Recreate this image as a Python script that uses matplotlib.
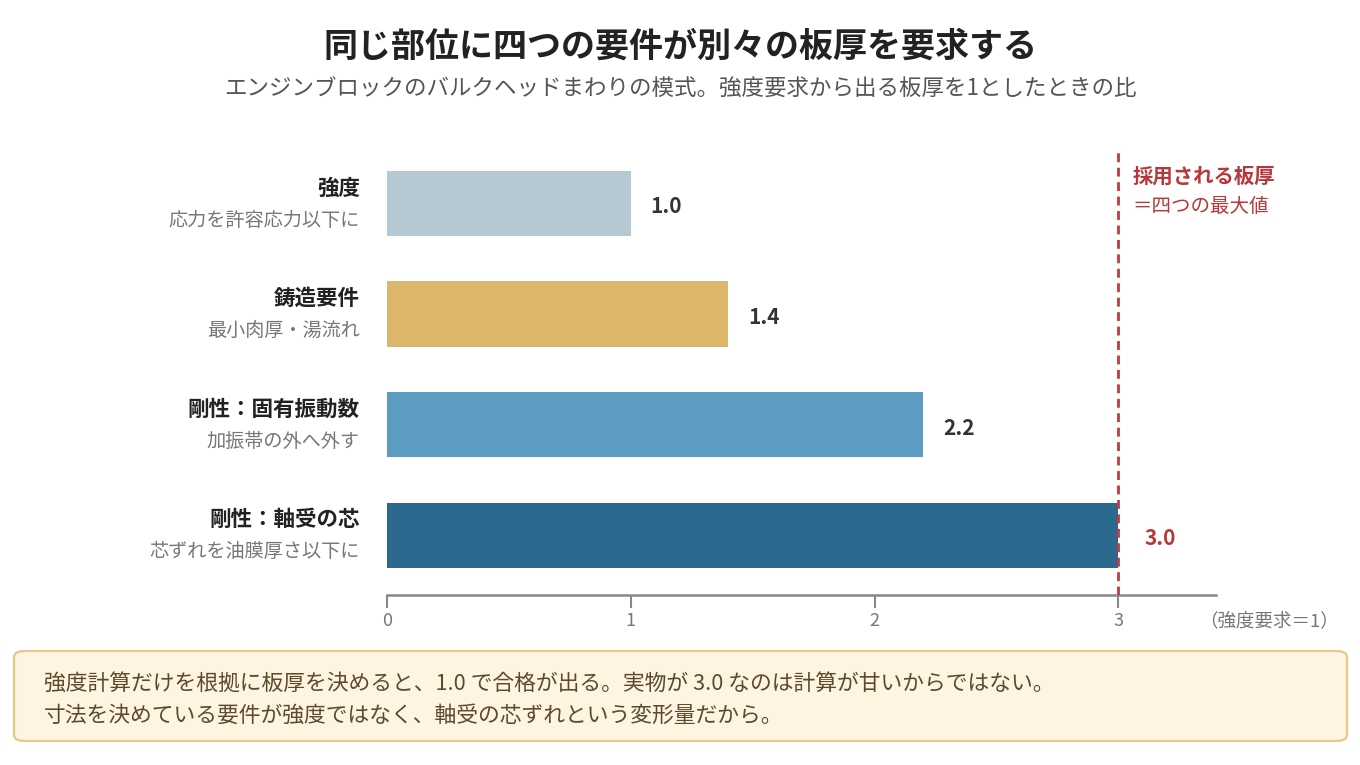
import matplotlib
matplotlib.use("Agg")
import matplotlib.pyplot as plt
from matplotlib.patches import FancyBboxPatch

plt.rcParams['font.family'] = ['Noto Sans CJK JP', 'DejaVu Sans']

# Data
names = ['強度', '鋳造要件', '剛性：固有振動数', '剛性：軸受の芯']
notes = ['応力を許容応力以下に', '最小肉厚・湯流れ', '加振帯の外へ外す', '芯ずれを油膜厚さ以下に']
values = [1.0, 1.4, 2.2, 3.0]
colors = ['#b6c8d3', '#dbb66b', '#5b9cc0', '#2b6a8e']
xticks = [0, 1, 2, 3]

red = '#b8373a'
dark = '#333333'
gray = '#777777'

fig = plt.figure(figsize=(13.6, 7.65), dpi=100)
ax = fig.add_axes([387 / 1360, 1 - 595 / 765, 829 / 1360, 443 / 765])

ypos = list(range(len(values)))
ax.barh(ypos, values, height=0.59, color=colors, zorder=2)
ax.set_xlim(0, 3.4)
ax.set_ylim(3.54, -0.465)

# Value labels
vmax = max(values)
for y, v in zip(ypos, values):
    c = red if v == vmax else dark
    dx = 0.105 if v == vmax else 0.08
    ax.annotate(f'{v:.1f}', xy=(v + dx, y), xytext=(0, -2.5),
                textcoords='offset points', va='center', ha='left',
                fontsize=15, fontweight='bold', color=c)

# Category labels (two lines)
for y, n, s in zip(ypos, names, notes):
    ax.annotate(n, xy=(0, y), xycoords=('axes fraction', 'data'),
                xytext=(-19.5, 11), textcoords='offset points', ha='right',
                va='center', fontsize=15.5, fontweight='bold', color='#222222')
    ax.annotate(s, xy=(0, y), xycoords=('axes fraction', 'data'),
                xytext=(-19.5, -12), textcoords='offset points', ha='right',
                va='center', fontsize=13.8, color=gray)

# Max line
ax.axvline(vmax, color='#bf3a3c', lw=2, ls=(0, (3.2, 2)), zorder=3)
ax.text(vmax + 0.057, -0.25, '採用される板厚', color=red, fontsize=14.7,
        fontweight='bold', va='center', ha='left')
ax.text(vmax + 0.057, 0.03, '＝四つの最大値', color=red, fontsize=14,
        va='center', ha='left')

# Axes styling
for side in ['top', 'right', 'left']:
    ax.spines[side].set_visible(False)
ax.spines['bottom'].set_color('#888888')
ax.spines['bottom'].set_linewidth(1.8)
ax.set_yticks([])
ax.set_xticks(xticks)
ax.set_xticklabels([str(t) for t in xticks])
ax.tick_params(axis='x', length=9, width=1.5, color='#888888', labelcolor=gray,
               labelsize=13, pad=3)
ax.annotate('（強度要求＝1）', xy=(1, 0), xycoords='axes fraction',
            xytext=(-12, -19), textcoords='offset points', ha='left', va='center',
            fontsize=13.3, color=gray)

# Title and subtitle
fig.text(0.5, 1 - 46 / 765, '同じ部位に四つの要件が別々の板厚を要求する', ha='center',
         va='center', fontsize=24.5, fontweight='bold', color='#222222')
fig.text(0.5, 1 - 89 / 765,
         'エンジンブロックのバルクヘッドまわりの模式。強度要求から出る板厚を1としたときの比',
         ha='center', va='center', fontsize=16.2, color='#555555')

# Callout box
box = FancyBboxPatch((14 / 1360, 1 - 741 / 765), 1333 / 1360, 90 / 765,
                     boxstyle='round,pad=0,rounding_size=0.008',
                     transform=fig.transFigure, facecolor='#fdf5e2',
                     edgecolor='#e6c887', lw=1.6)
fig.patches.append(box)
fig.text(44 / 1360, 1 - 684 / 765,
         '強度計算だけを根拠に板厚を決めると、1.0 で合格が出る。実物が 3.0 なのは計算が甘いからではない。',
         ha='left', va='center', fontsize=15.7, color='#5b4a2c')
fig.text(44 / 1360, 1 - 716 / 765,
         '寸法を決めている要件が強度ではなく、軸受の芯ずれという変形量だから。',
         ha='left', va='center', fontsize=15.7, color='#5b4a2c')

fig.savefig('out.png', dpi=100, facecolor='white')
